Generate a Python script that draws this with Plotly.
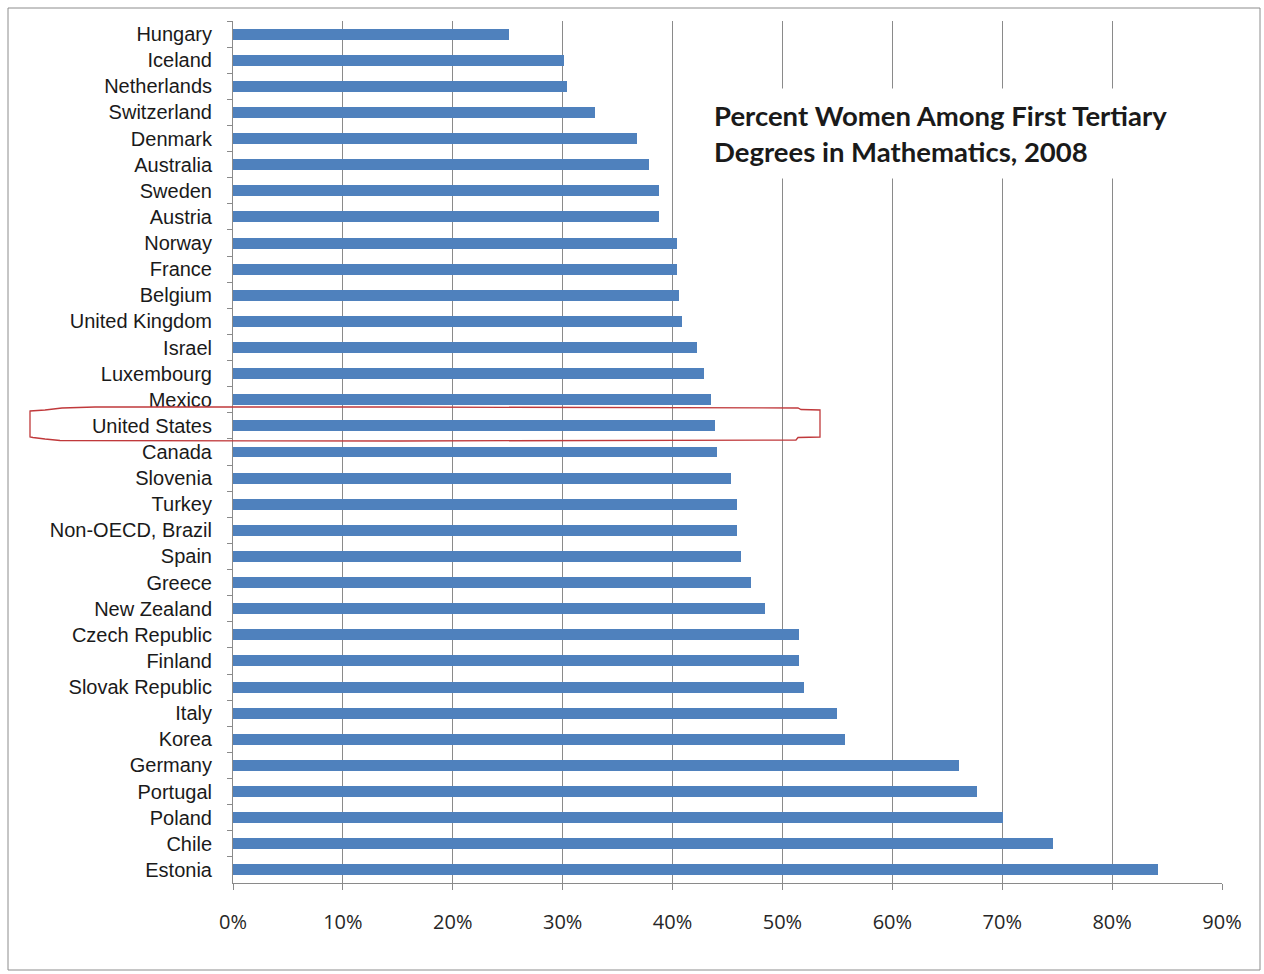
import plotly.graph_objects as go

countries = ["Hungary", "Iceland", "Netherlands", "Switzerland", "Denmark", "Australia",
             "Sweden", "Austria", "Norway", "France", "Belgium", "United Kingdom", "Israel",
             "Luxembourg", "Mexico", "United States", "Canada", "Slovenia", "Turkey",
             "Non-OECD, Brazil", "Spain", "Greece", "New Zealand", "Czech Republic", "Finland",
             "Slovak Republic", "Italy", "Korea", "Germany", "Portugal", "Poland", "Chile", "Estonia"]
percent_women = [25.1, 30.1, 30.4, 32.9, 36.8, 37.9, 38.8, 38.8, 40.4, 40.4, 40.6, 40.9, 42.2,
                 42.9, 43.5, 43.9, 44.0, 45.3, 45.9, 45.9, 46.2, 47.1, 48.4, 51.5, 51.5,
                 52.0, 55.0, 55.7, 66.1, 67.7, 70.1, 74.6, 84.2]
x_ticks = [0, 10, 20, 30, 40, 50, 60, 70, 80, 90]
title_text = "Percent Women Among First Tertiary<br>Degrees in Mathematics, 2008"

W, H = 1264, 974
L, R, T, B = 233, 1222, 21, 883
pw, ph = R - L, B - T


def px(x):
    return (x - L) / pw


def py(y):
    return (B - y) / ph


fig = go.Figure(go.Bar(
    x=percent_women, y=countries, orientation="h",
    marker=dict(color="#4F81BD", line=dict(width=0)),
    width=0.42,
))

fig.update_layout(
    width=W, height=H,
    margin=dict(l=L, r=W - R, t=T, b=H - B),
    paper_bgcolor="white", plot_bgcolor="white",
    showlegend=False,
    bargap=0,
    xaxis=dict(
        range=[0, 90], tickvals=x_ticks, ticktext=[f"{v}%" for v in x_ticks],
        showgrid=True, gridcolor="#8a8a8a", gridwidth=1,
        showline=True, linecolor="#8a8a8a", linewidth=1,
        ticks="outside", ticklen=6, tickcolor="#8a8a8a",
        tickfont=dict(family="Open Sans, sans-serif", size=20, color="#262626"),
        ticklabelstandoff=15,
        zeroline=False, fixedrange=True,
    ),
    yaxis=dict(
        categoryorder="array", categoryarray=countries, autorange="reversed",
        showline=True, linecolor="#8a8a8a", linewidth=1,
        ticks="outside", ticklen=5, tickcolor="#8a8a8a", tickson="boundaries",
        tickfont=dict(family="Liberation Sans, Arial, sans-serif", size=20, color="#1a1a1a"),
        ticklabelstandoff=16,
        showgrid=False, fixedrange=True,
    ),
)

# title text box with white background
fig.add_annotation(
    xref="paper", yref="paper", x=px(703), y=py(88), xanchor="left", yanchor="top",
    text="<b>" + title_text + "</b>", showarrow=False, align="left",
    font=dict(family="Lato, Open Sans, sans-serif", size=27.5, color="#1a1a1a"),
    bgcolor="white", borderpad=10,
)

# outer chart border
fig.add_shape(type="rect", xref="paper", yref="paper",
              x0=px(8), x1=px(1260), y0=py(970), y1=py(8),
              line=dict(color="#8c8c8c", width=1), layer="below")

# red hand-drawn highlight around United States
pts = [(30, 411), (45, 410), (62, 408), (95, 407), (400, 407), (798, 408), (801, 409.5),
       (820, 410), (820, 437), (798, 437.5), (796, 440), (400, 441), (60, 440.5),
       (45, 439), (33, 437.5), (30, 437)]
path = "M " + " L ".join(f"{px(x)},{py(y)}" for x, y in pts) + " Z"
fig.add_shape(type="path", xref="paper", yref="paper", path=path,
              line=dict(color="#c0393b", width=1.3))

fig.write_html("out.html")
